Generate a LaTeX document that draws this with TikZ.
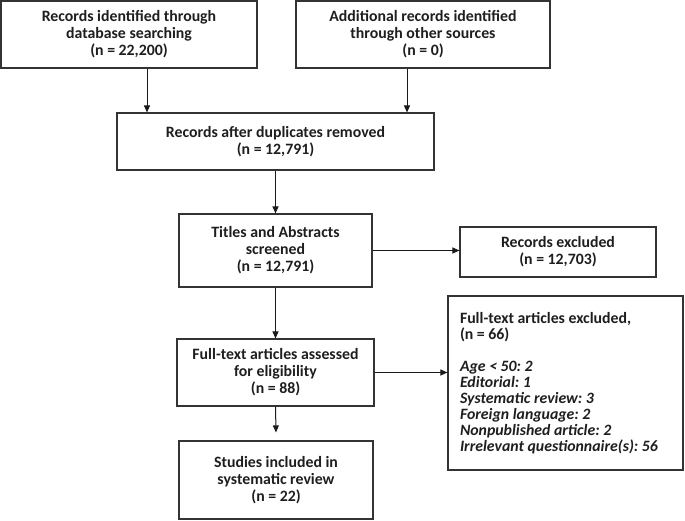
\documentclass[tikz,border=0pt]{standalone}
\usepackage{fontspec}
\setmainfont{Carlito}
\usetikzlibrary{arrows.meta}
\definecolor{boxgray}{HTML}{333333}
\definecolor{textgray}{HTML}{1E1E1E}
\definecolor{arrgray}{HTML}{1A1A1A}
\frenchspacing
\begin{document}
\begin{tikzpicture}[x=1pt,y=-1pt,
  box/.style={draw=boxgray, line width=1.1pt, inner sep=0pt, align=center,
    font=\bfseries\fontsize{15.8}{17}\selectfont, text=textgray},
  listbox/.style={draw=boxgray, line width=1.1pt, inner xsep=12pt, inner ysep=0pt, align=flush left,
    text width=211pt, font=\bfseries\fontsize{15.8}{16}\selectfont, text=textgray},
  arr/.style={-{Triangle[length=7pt,width=6pt]}, line width=1pt, draw=arrgray}]
\useasboundingbox (0,0) rectangle (685,521);
\node[box, minimum width=256pt, minimum height=67pt] (b1) at (129,34.5)
  {Records identified through\\database searching\\(n = 22,200)};
\node[box, minimum width=254pt, minimum height=67pt] (b2) at (423,34.5)
  {Additional records identified\\through other sources\\(n = 0)};
\node[box, minimum width=317pt, minimum height=57pt] (b3) at (275.5,141.5)
  {Records after duplicates removed\\(n = 12,791)};
\node[box, minimum width=193pt, minimum height=73pt] (b4) at (275.5,250.5)
  {Titles and Abstracts\\screened\\(n = 12,791)};
\node[box, minimum width=196pt, minimum height=50pt] (b5) at (558,252)
  {Records excluded\\(n = 12,703)};
\node[box, minimum width=197pt, minimum height=67pt] (b6) at (275.5,372.5)
  {Full-text articles assessed\\for eligibility\\(n = 88)};
\node[listbox, minimum height=174pt] (b7) at (565.5,383)
  {Full-text articles excluded,\\(n = 66)\\[16pt]
   \textit{Age < 50: 2}\\
   \textit{Editorial: 1}\\
   \textit{Systematic review: 3}\\
   \textit{Foreign language: 2}\\
   \textit{Nonpublished article: 2}\\
   \textit{Irrelevant questionnaire(s): 56}};
\node[box, minimum width=194pt, minimum height=78pt] (b8) at (276,480)
  {Studies included in\\systematic review\\(n = 22)};
\coordinate (c1) at (147,0);
\coordinate (c2) at (407,0);
\draw[arr] (c1 |- b1.south) -- (c1 |- b3.north);
\draw[arr] (c2 |- b2.south) -- (c2 |- b3.north);
\draw[arr] (b3.south) -- (b4.north);
\draw[arr] (b4.east) -- (b4.east -| b5.west);
\draw[arr] (b4.south) -- (b6.north);
\draw[arr] (b6.east) -- (b6.east -| b7.west);
\draw[arr] (b6.south) -- ([yshift=8pt]b8.north);
\end{tikzpicture}
\end{document}
